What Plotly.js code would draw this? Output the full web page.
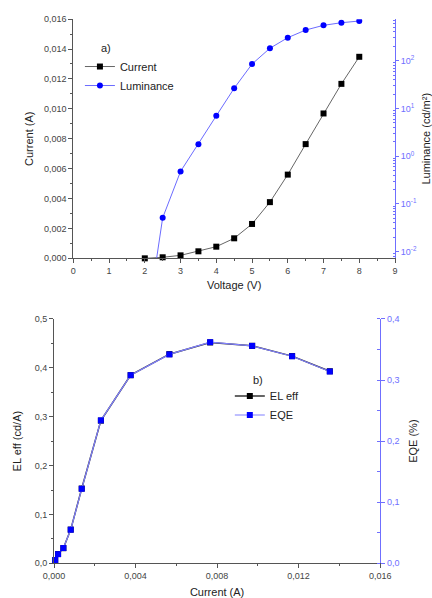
<!DOCTYPE html>
<html>
<head>
<meta charset="utf-8">
<script src="https://cdn.plot.ly/plotly-3.0.1.min.js"></script>
<style>html,body{margin:0;padding:0;background:#fff;}#chart{width:432px;height:598px;}</style>
</head>
<body>
<div id="chart"></div>
<script>
// ---- Data (a): current and luminance vs voltage ----
const voltageCurrent = [2, 2.5, 3, 3.5, 4, 4.5, 5, 5.5, 6, 6.5, 7, 7.5, 8];
const currentA = [0.0000, 0.00007, 0.0002, 0.00047, 0.00078, 0.00134, 0.0023, 0.00376, 0.0056, 0.00764, 0.00969, 0.01167, 0.01348];
const voltageLum = [2, 2.5, 3, 3.5, 4, 4.5, 5, 5.5, 6, 6.5, 7, 7.5, 8];
const luminance = [0.00016, 0.051, 0.48, 1.78, 7.0, 26.4, 85, 182, 303, 438, 550, 624, 677];
const lumTickVals = [0.01, 0.1, 1, 10, 100];
const lumTickText = ['10<sup>-2</sup>', '10<sup>-1</sup>', '10<sup>0</sup>', '10<sup>1</sup>', '10<sup>2</sup>'];

// ---- Data (b): efficiencies vs current ----
const effCurrent = [0.00006, 0.0002, 0.00046, 0.00082, 0.00136, 0.0023, 0.00376, 0.00566, 0.00766, 0.00972, 0.01168, 0.01353];
const elEff = [0.0068, 0.019, 0.031, 0.069, 0.153, 0.292, 0.385, 0.428, 0.452, 0.445, 0.424, 0.393];
const eqe = [0.0054, 0.015, 0.025, 0.055, 0.122, 0.234, 0.308, 0.342, 0.362, 0.356, 0.339, 0.314];

const FONT = 'Arial, "Liberation Sans", sans-serif';
const AX = '#555555';
const BLUE_AX = '#6f6fff';
const TXT = '#444444';

// minor ticks for log axis
const lumMinor = [];
for (let d = -3; d <= 2; d++) for (let k = 2; k <= 9; k++) lumMinor.push(k * Math.pow(10, d));

const traces = [
  {x: voltageCurrent, y: currentA, name: 'Current', xaxis: 'x', yaxis: 'y', mode: 'lines+markers',
   line: {color: '#666666', width: 1}, marker: {symbol: 'square', size: 6, color: '#000000'},
   cliponaxis: false, legend: 'legend'},
  {x: voltageLum, y: luminance, name: 'Luminance', xaxis: 'x', yaxis: 'y2', mode: 'lines+markers',
   line: {color: '#6b6bff', width: 1}, marker: {symbol: 'circle', size: 6, color: '#0000ff'},
   cliponaxis: true, legend: 'legend'},
  {x: effCurrent, y: elEff, name: 'EL eff', xaxis: 'x2', yaxis: 'y3', mode: 'lines+markers',
   line: {color: '#333333', width: 1.5}, marker: {symbol: 'square', size: 6, color: '#000000'},
   cliponaxis: false, legend: 'legend2'},
  {x: effCurrent, y: eqe, name: 'EQE', xaxis: 'x2', yaxis: 'y4', mode: 'lines+markers',
   line: {color: '#8080ff', width: 1.2}, marker: {symbol: 'square', size: 6, color: '#0000ff'},
   cliponaxis: false, legend: 'legend2'}
];

const baseAx = {
  showgrid: false, zeroline: false, showline: true, linecolor: AX, linewidth: 1,
  ticks: 'outside', ticklen: 4, tickcolor: AX, tickwidth: 1,
  tickfont: {family: FONT, size: 9, color: TXT},
  automargin: false
};
const titleFont = {family: FONT, size: 11, color: '#222222'};

const layout = {
  width: 432, height: 598,
  margin: {l: 0, r: 0, t: 0, b: 0},
  paper_bgcolor: '#ffffff', plot_bgcolor: '#ffffff',
  separators: ', ',
  font: {family: FONT, size: 9, color: TXT},
  xaxis: Object.assign({}, baseAx, {
    domain: [0.1697, 0.9144], anchor: 'y', range: [0, 9], dtick: 1, tick0: 0,
    minor: {dtick: 0.5, ticks: 'outside', ticklen: 2, tickcolor: AX},
    title: {text: 'Voltage (V)', font: titleFont, standoff: 6}
  }),
  xaxis3: Object.assign({}, baseAx, {
    overlaying: 'x', side: 'top', anchor: 'y', range: [0, 9], dtick: 1, tick0: 0,
    ticks: 'inside', showticklabels: false,
    minor: {dtick: 0.5, ticks: 'inside', ticklen: 2, tickcolor: AX}
  }),
  yaxis: Object.assign({}, baseAx, {
    domain: [0.568, 0.968], anchor: 'x', range: [0, 0.016], dtick: 0.002, tick0: 0, tickformat: '.3f',
    minor: {dtick: 0.001, ticks: 'outside', ticklen: 2, tickcolor: AX},
    title: {text: 'Current (A)', font: titleFont, standoff: 8}
  }),
  yaxis2: Object.assign({}, baseAx, {
    overlaying: 'y', side: 'right', anchor: 'x', type: 'log', range: [-2.14, 2.87],
    linecolor: BLUE_AX, tickcolor: BLUE_AX, tickfont: {family: FONT, size: 9, color: BLUE_AX},
    tickmode: 'array', tickvals: lumTickVals, ticktext: lumTickText, ticklen: 3,
    minor: {tickmode: 'array', tickvals: lumMinor, ticks: 'inside', ticklen: 2, tickcolor: BLUE_AX},
    title: {text: 'Luminance (cd/m²)', font: titleFont, standoff: 6}
  }),
  xaxis2: Object.assign({}, baseAx, {
    domain: [0.125, 0.880], anchor: 'y3', range: [0, 0.016], dtick: 0.004, tick0: 0, tickformat: '.3f',
    minor: {dtick: 0.002, ticks: 'outside', ticklen: 2, tickcolor: AX},
    title: {text: 'Current (A)', font: titleFont, standoff: 11}
  }),
  xaxis4: Object.assign({}, baseAx, {
    overlaying: 'x2', side: 'top', anchor: 'y3', range: [0, 0.016], dtick: 0.004, tick0: 0,
    ticks: 'inside', showticklabels: false,
    minor: {dtick: 0.002, ticks: 'inside', ticklen: 2, tickcolor: AX}
  }),
  yaxis3: Object.assign({}, baseAx, {
    domain: [0.058, 0.4666], anchor: 'x2', range: [0, 0.5], dtick: 0.1, tick0: 0, tickformat: '.1f',
    minor: {dtick: 0.05, ticks: 'outside', ticklen: 2, tickcolor: AX},
    title: {text: 'EL eff (cd/A)', font: titleFont, standoff: 10}
  }),
  yaxis4: Object.assign({}, baseAx, {
    overlaying: 'y3', side: 'right', anchor: 'x2', range: [0, 0.4], dtick: 0.1, tick0: 0, tickformat: '.1f',
    linecolor: BLUE_AX, tickcolor: BLUE_AX, tickfont: {family: FONT, size: 9, color: BLUE_AX},
    minor: {dtick: 0.05, ticks: 'inside', ticklen: 3, tickcolor: BLUE_AX},
    title: {text: 'EQE (%)', font: titleFont, standoff: 10}
  }),
  legend: {
    x: 0.185, y: 0.913, xanchor: 'left', yanchor: 'top', bgcolor: 'rgba(0,0,0,0)',
    font: {family: FONT, size: 11, color: '#222222'}, itemwidth: 30, tracegroupgap: 0
  },
  legend2: {
    x: 0.532, y: 0.362, xanchor: 'left', yanchor: 'top', bgcolor: 'rgba(0,0,0,0)',
    font: {family: FONT, size: 11, color: '#222222'}, itemwidth: 30, tracegroupgap: 0
  },
  annotations: [
    {text: 'a)', xref: 'paper', yref: 'paper', x: 99 / 432, y: 1 - 48 / 598, xanchor: 'left', yanchor: 'middle',
     showarrow: false, font: {family: FONT, size: 11, color: '#222222'}},
    {text: 'b)', xref: 'paper', yref: 'paper', x: 251 / 432, y: 1 - 380 / 598, xanchor: 'left', yanchor: 'middle',
     showarrow: false, font: {family: FONT, size: 11, color: '#222222'}}
  ]
};

Plotly.newPlot('chart', traces, layout, {displayModeBar: false, staticPlot: true});
</script>
</body>
</html>
